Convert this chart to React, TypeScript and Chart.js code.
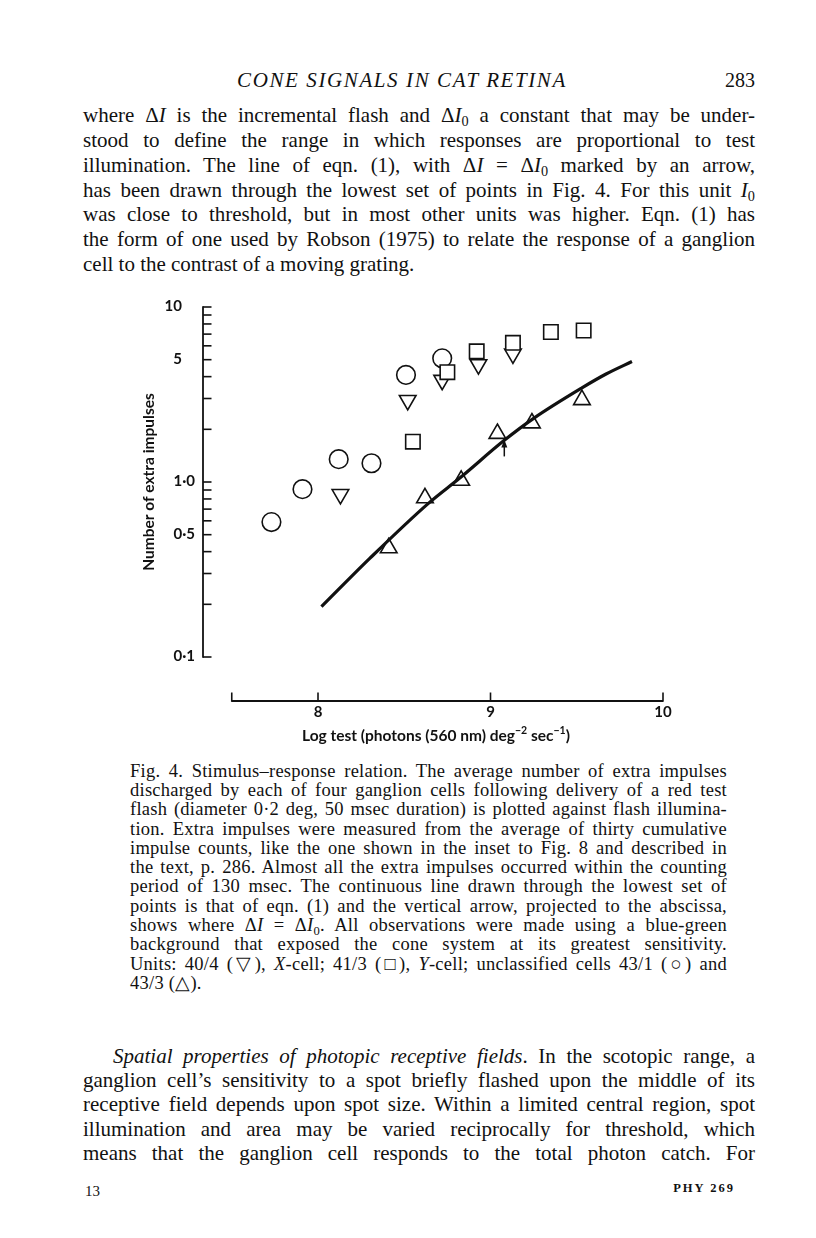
import React, { useEffect, useRef } from 'react';
import { Chart, registerables } from 'chart.js';

Chart.register(...registerables);

// ---- Data ----
// Unit 43/1 (circles)
const CIRCLE_X = [7.73, 7.91, 8.12, 8.31, 8.51, 8.72];
const CIRCLE_Y = [0.59, 0.91, 1.35, 1.28, 4.09, 5.09];
// Unit 40/4, X-cell (down triangles)
const DOWN_TRI_X = [8.13, 8.52, 8.72, 8.93, 9.13];
const DOWN_TRI_Y = [0.85, 2.93, 3.82, 4.69, 5.4];
// Unit 41/3, Y-cell (squares)
const SQUARE_X = [8.55, 8.75, 8.92, 9.13, 9.35, 9.54];
const SQUARE_Y = [1.7, 4.24, 5.58, 6.24, 7.2, 7.34];
// Unit 43/3 (up triangles)
const UP_TRI_X = [8.41, 8.62, 8.83, 9.04, 9.24, 9.53];
const UP_TRI_Y = [0.42, 0.81, 1.02, 1.89, 2.17, 2.95];
// Continuous line of eqn. (1)
const CURVE_X = [8.02, 8.3, 8.64, 8.82, 9.08, 9.25, 9.53, 9.67, 9.82];
const CURVE_Y = [0.194, 0.366, 0.755, 1.05, 1.73, 2.31, 3.45, 4.14, 4.88];
// Vertical arrow (ΔI = ΔI0)
const ARROW_X = 9.08;
const ARROW_Y_FROM = 1.4;
const ARROW_Y_TO = 1.75;

// ---- Axes ----
const X_MIN = 7.3333;
const X_MAX = 10;
const X_AXIS_START = 7.5;
const X_TICKS = [7.5, 8, 9, 10];
const X_LABEL_VALUES = [8, 9, 10];
const X_LABEL_TEXT = ['8', '9', '10'];
const Y_MIN = 0.1;
const Y_MAX = 10;
const Y_TICKS = [0.1, 0.2, 0.3, 0.4, 0.5, 0.6, 0.7, 0.8, 0.9, 1, 2, 3, 4, 5, 6, 7, 8, 9, 10];
const Y_LABEL_VALUES = [10, 5, 1, 0.5, 0.1];
const Y_LABEL_TEXT = ['10', '5', '1·0', '0·5', '0·1'];
const Y_TITLE = 'Number of extra impulses';

const SANS = "Lato, 'Open Sans', sans-serif";
const SERIF = "'Liberation Serif', 'Times New Roman', serif";

const pts = (xs: number[], ys: number[]) => xs.map((x, i) => ({ x, y: ys[i] }));

const paperAxes = {
  id: 'paperAxes',
  afterDatasetsDraw(chart: any) {
    const { ctx, scales } = chart;
    const xs = scales.x;
    const ys = scales.y;
    const ax = chart.chartArea.left;
    const yTop = ys.getPixelForValue(Y_MAX);
    const yBot = ys.getPixelForValue(Y_MIN);
    ctx.save();
    ctx.strokeStyle = '#111';
    ctx.fillStyle = '#111';
    ctx.lineWidth = 1.8;
    ctx.lineCap = 'butt';
    // y axis
    ctx.beginPath();
    ctx.moveTo(ax, yTop - 0.8);
    ctx.lineTo(ax, yBot + 0.8);
    ctx.stroke();
    ctx.lineWidth = 1.6;
    Y_TICKS.forEach((v) => {
      const py = ys.getPixelForValue(v);
      ctx.beginPath();
      ctx.moveTo(ax, py);
      ctx.lineTo(ax + 8.5, py);
      ctx.stroke();
    });
    ctx.font = `bold 15px ${SANS}`;
    ctx.textAlign = 'right';
    ctx.textBaseline = 'middle';
    Y_LABEL_VALUES.forEach((v, i) => {
      const t = Y_LABEL_TEXT[i];
      const off = t.includes('·') ? 8 : 21;
      ctx.fillText(t, ax - off, ys.getPixelForValue(v) - 1);
    });
    // y title
    ctx.save();
    ctx.translate(ax - 54, (yTop + yBot) / 2);
    ctx.rotate(-Math.PI / 2);
    ctx.textAlign = 'center';
    ctx.font = `bold 15.5px ${SANS}`;
    ctx.fillText(Y_TITLE, 0, 0);
    ctx.restore();

    // x axis (detached, below the plot)
    const axY = yBot + 44;
    const x0 = xs.getPixelForValue(X_AXIS_START);
    const x1 = xs.getPixelForValue(X_MAX);
    ctx.lineWidth = 1.8;
    ctx.beginPath();
    ctx.moveTo(x0, axY);
    ctx.lineTo(x1, axY);
    ctx.stroke();
    ctx.lineWidth = 1.6;
    X_TICKS.forEach((v) => {
      const px = xs.getPixelForValue(v);
      ctx.beginPath();
      ctx.moveTo(px, axY + 0.8);
      ctx.lineTo(px, axY - 8.5);
      ctx.stroke();
    });
    ctx.textAlign = 'center';
    ctx.textBaseline = 'middle';
    ctx.font = `bold 15px ${SANS}`;
    X_LABEL_VALUES.forEach((v, i) => {
      ctx.fillText(X_LABEL_TEXT[i], xs.getPixelForValue(v), axY + 11);
    });
    // x title with superscripts
    const parts: [string, boolean][] = [
      ['Log test (photons (560 nm) deg', false],
      ['−2', true],
      [' sec', false],
      ['−1', true],
      [')', false],
    ];
    const mainFont = `bold 15.5px ${SANS}`;
    const supFont = `bold 10.5px ${SANS}`;
    let total = 0;
    parts.forEach(([t, sup]) => {
      ctx.font = sup ? supFont : mainFont;
      total += ctx.measureText(t).width;
    });
    let cx = 436 - total / 2;
    const ty = axY + 35;
    ctx.textAlign = 'left';
    ctx.textBaseline = 'middle';
    parts.forEach(([t, sup]) => {
      ctx.font = sup ? supFont : mainFont;
      ctx.fillText(t, cx, sup ? ty - 5 : ty);
      cx += ctx.measureText(t).width;
    });

    // arrow
    const apx = xs.getPixelForValue(ARROW_X);
    const aFrom = ys.getPixelForValue(ARROW_Y_FROM);
    const aTo = ys.getPixelForValue(ARROW_Y_TO);
    ctx.lineWidth = 1.5;
    ctx.beginPath();
    ctx.moveTo(apx, aFrom);
    ctx.lineTo(apx, aTo + 5);
    ctx.stroke();
    ctx.beginPath();
    ctx.moveTo(apx, aTo);
    ctx.lineTo(apx - 3, aTo + 8);
    ctx.lineTo(apx + 3, aTo + 8);
    ctx.closePath();
    ctx.fill();
    ctx.restore();
  },
};

function Figure() {
  const ref = useRef<HTMLCanvasElement>(null);
  useEffect(() => {
    const marker = {
      showLine: false,
      backgroundColor: '#fff',
      borderColor: '#111',
      pointBackgroundColor: '#fff',
      pointBorderColor: '#111',
      pointBorderWidth: 1.6,
      clip: false as any,
    };
    const chart = new Chart(ref.current as HTMLCanvasElement, {
      type: 'scatter',
      data: {
        datasets: [
          {
            type: 'line',
            label: 'eqn (1)',
            data: pts(CURVE_X, CURVE_Y),
            borderColor: '#111',
            borderWidth: 3.2,
            pointRadius: 0,
            cubicInterpolationMode: 'monotone',
            fill: false,
            showLine: true,
            clip: false as any,
          } as any,
          { ...marker, label: '41/3', data: pts(SQUARE_X, SQUARE_Y), pointStyle: 'rect', pointRadius: 10.2 },
          { ...marker, label: '43/1', data: pts(CIRCLE_X, CIRCLE_Y), pointStyle: 'circle', pointRadius: 9.3 },
          { ...marker, label: '40/4', data: pts(DOWN_TRI_X, DOWN_TRI_Y), pointStyle: 'triangle', pointRotation: 180, pointRadius: 9.6 },
          { ...marker, label: '43/3', data: pts(UP_TRI_X, UP_TRI_Y), pointStyle: 'triangle', pointRadius: 9.6 },
        ],
      },
      options: {
        animation: false,
        responsive: false,
        maintainAspectRatio: false,
        events: [],
        layout: { padding: { left: 203, right: 153, top: 27, bottom: 103 } },
        plugins: { legend: { display: false }, tooltip: { enabled: false } },
        scales: {
          x: { type: 'linear', min: X_MIN, max: X_MAX, display: false },
          y: { type: 'logarithmic', min: Y_MIN, max: Y_MAX, display: false },
        },
      },
      plugins: [paperAxes],
    });
    return () => chart.destroy();
  }, []);
  return (
    <canvas
      ref={ref}
      width={816}
      height={480}
      style={{ position: 'absolute', left: 0, top: 280, width: 816, height: 480 }}
    />
  );
}

const Sub = ({ children }: { children: any }) => (
  <sub style={{ fontSize: '0.68em', verticalAlign: '-0.28em', lineHeight: 0 }}>{children}</sub>
);

function Line({
  c, left, width, fs, lh, justify = true, children, extra,
}: { c: number; left: number; width: number; fs: number; lh: number; justify?: boolean; children: any; extra?: any }) {
  return (
    <div
      style={{
        position: 'absolute',
        top: c - lh / 2 - fs * 0.1,
        left,
        width,
        height: lh,
        fontSize: fs,
        lineHeight: lh + 'px',
        fontFamily: SERIF,
        color: '#111',
        whiteSpace: 'nowrap',
        textAlign: justify ? 'justify' : 'left',
        textAlignLast: justify ? 'justify' : 'left',
        ...extra,
      } as any}
    >
      {children}
    </div>
  );
}

const BODY = { left: 83, width: 672, fs: 21, lh: 24 };
const CAP = { left: 130, width: 597, fs: 18.5, lh: 19, extra: { letterSpacing: '0.25px' } };

export default function App() {
  const dI = <>Δ<i>I</i></>;
  const dI0 = <>Δ<i>I</i><Sub>0</Sub></>;
  const bodyCenters = [117, 142, 167, 192, 216.5, 241, 266];
  const capCenters = [773, 792.3, 811.6, 830.9, 850.2, 869.5, 888.8, 908.1, 927.4, 946.7, 966, 985.3];
  const paraCenters = [1058, 1082, 1106, 1131, 1155];
  const body = [
    <>where {dI} is the incremental flash and {dI0} a constant that may be under-</>,
    <>stood to define the range in which responses are proportional to test</>,
    <>illumination. The line of eqn. (1), with {dI} = {dI0} marked by an arrow,</>,
    <>has been drawn through the lowest set of points in Fig. 4. For this unit <i>I</i><Sub>0</Sub></>,
    <>was close to threshold, but in most other units was higher. Eqn. (1) has</>,
    <>the form of one used by Robson (1975) to relate the response of a ganglion</>,
    <>cell to the contrast of a moving grating.</>,
  ];
  const caption = [
    <>Fig. 4. Stimulus–response relation. The average number of extra impulses</>,
    <>discharged by each of four ganglion cells following delivery of a red test</>,
    <>flash (diameter 0·2 deg, 50 msec duration) is plotted against flash illumina-</>,
    <>tion. Extra impulses were measured from the average of thirty cumulative</>,
    <>impulse counts, like the one shown in the inset to Fig. 8 and described in</>,
    <>the text, p. 286. Almost all the extra impulses occurred within the counting</>,
    <>period of 130 msec. The continuous line drawn through the lowest set of</>,
    <>points is that of eqn. (1) and the vertical arrow, projected to the abscissa,</>,
    <>shows where {dI} = {dI0}. All observations were made using a blue-green</>,
    <>background that exposed the cone system at its greatest sensitivity.</>,
    <>Units: 40/4 (▽), <i>X</i>-cell; 41/3 (□), <i>Y</i>-cell; unclassified cells 43/1 (○) and</>,
    <>43/3 (△).</>,
  ];
  const para = [
    <><i>Spatial properties of photopic receptive fields</i>. In the scotopic range, a</>,
    <>ganglion cell’s sensitivity to a spot briefly flashed upon the middle of its</>,
    <>receptive field depends upon spot size. Within a limited central region, spot</>,
    <>illumination and area may be varied reciprocally for threshold, which</>,
    <>means that the ganglion cell responds to the total photon catch. For</>,
  ];
  return (
    <div style={{ position: 'absolute', left: 0, top: 0, width: 816, height: 1238, background: '#fff', overflow: 'hidden' }}>
      <Line c={82} left={120} width={564} fs={21} lh={24} justify={false} extra={{ textAlign: 'center', textAlignLast: 'center', fontStyle: 'italic', letterSpacing: '1.6px' }}>
        CONE SIGNALS IN CAT RETINA
      </Line>
      <Line c={82} left={655} width={100} fs={20} lh={24} justify={false} extra={{ textAlign: 'right', textAlignLast: 'right' }}>
        283
      </Line>
      {body.map((t, i) => (
        <Line key={'b' + i} c={bodyCenters[i]} {...BODY} justify={i < body.length - 1}>{t}</Line>
      ))}
      <Figure />
      {caption.map((t, i) => (
        <Line key={'c' + i} c={capCenters[i]} {...CAP} justify={i < caption.length - 1}>{t}</Line>
      ))}
      {para.map((t, i) => (
        <Line
          key={'p' + i}
          c={paraCenters[i]}
          {...BODY}
          left={i === 0 ? 113 : 83}
          width={i === 0 ? 642 : 672}
          justify={true}
        >
          {t}
        </Line>
      ))}
      <Line c={1192} left={85} width={60} fs={15} lh={18} justify={false}>13</Line>
      <Line c={1189} left={635} width={100} fs={12.5} lh={16} justify={false} extra={{ textAlign: 'right', textAlignLast: 'right', letterSpacing: '2px', fontWeight: 'bold' }}>
        PHY 269
      </Line>
    </div>
  );
}
